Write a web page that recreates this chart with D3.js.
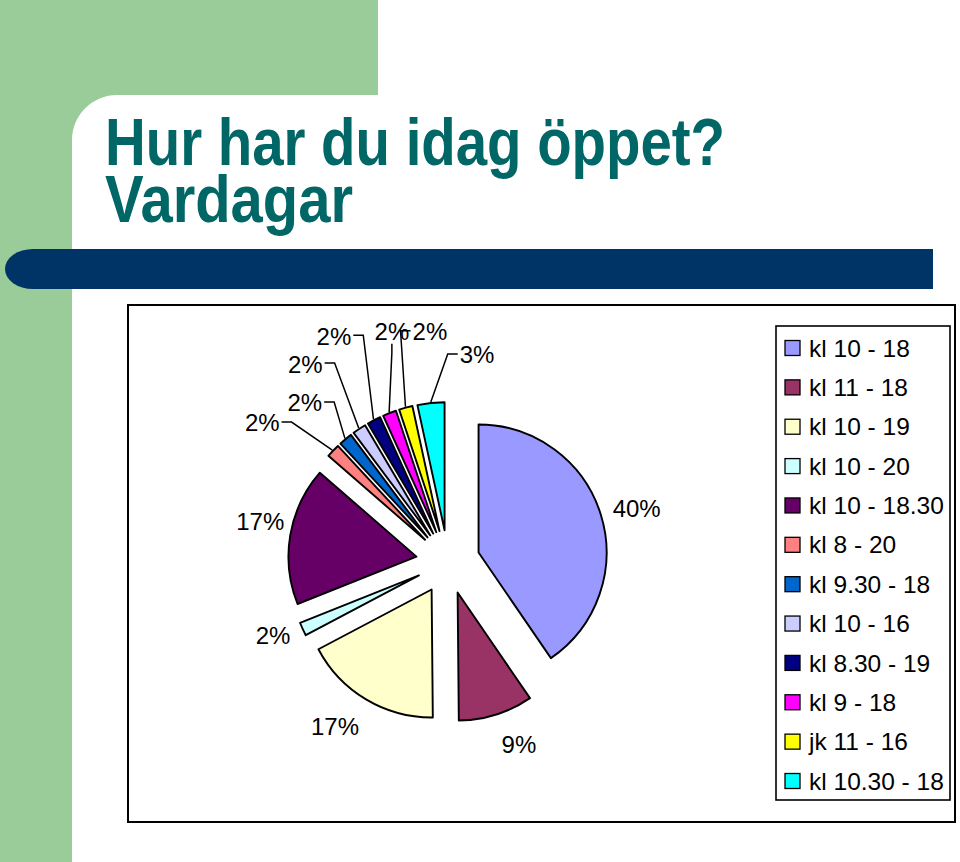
<!DOCTYPE html>
<html>
<head>
<meta charset="utf-8">
<script src="https://cdn.jsdelivr.net/npm/d3@7"></script>
<style>
  html, body { margin: 0; padding: 0; background: #ffffff; }
  svg { display: block; }
</style>
</head>
<body>
<svg id="chart" width="960" height="862"></svg>
<script>
// ---------------- data ----------------
const categories = ["kl 10 - 18", "kl 11 - 18", "kl 10 - 19", "kl 10 - 20", "kl 10 - 18.30",
  "kl 8 - 20", "kl 9.30 - 18", "kl 10 - 16", "kl 8.30 - 19", "kl 9 - 18", "jk 11 - 16", "kl 10.30 - 18"];
const values = [40.4, 9.4, 17.4, 1.7, 17.4, 1.7, 1.7, 1.7, 1.7, 1.7, 1.7, 3.4];
const colors = ["#9999FF", "#993366", "#FFFFCC", "#CCFFFF", "#660066", "#FF8080",
  "#0066CC", "#CCCCFF", "#000080", "#FF00FF", "#FFFF00", "#00FFFF"];
const titleLines = ["Hur har du idag öppet?", "Vardagar"];

// ---------------- layout ----------------
const labelAngles = [74.3, 158.8, 214.4, 247.1, 282, 306.8, 318, 324.2, 333.2, 346.3, 355.5, 8.0];
const labelRadii  = [196, 196, 200, 190, 192, 232, 214, 244, 253, 237, 231, 209];
const hasLeader   = [false, false, false, false, false, true, true, true, true, true, true, true];

const svg = d3.select("#chart");
const W = 960, H = 862;
const green = "#99CC99", navy = "#003366", teal = "#006666";
const arial = "'Liberation Sans', Arial, Helvetica, sans-serif";

// slide background
svg.append("rect").attr("x", 0).attr("y", 0).attr("width", 378).attr("height", 160).attr("fill", green);
svg.append("rect").attr("x", 0).attr("y", 0).attr("width", 72).attr("height", H).attr("fill", green);
svg.append("rect").attr("x", 72).attr("y", 95).attr("width", 1000).attr("height", 1000)
  .attr("rx", 45).attr("ry", 45).attr("fill", "#ffffff");

// title
const titleG = svg.append("g").attr("font-family", "'Liberation Sans Narrow', 'Arial Narrow', " + arial)
  .attr("font-weight", "bold").attr("font-size", 66).attr("fill", teal);
const titleWidths = [620, 248];
const titleBase = [165, 222];
titleLines.forEach((t, i) => {
  titleG.append("text").attr("x", 105).attr("y", titleBase[i])
    .attr("textLength", titleWidths[i]).attr("lengthAdjust", "spacingAndGlyphs").text(t);
});

// navy bar
svg.append("rect").attr("x", 5).attr("y", 249).attr("width", 70).attr("height", 40)
  .attr("rx", 28).attr("ry", 20).attr("fill", navy);
svg.append("rect").attr("x", 40).attr("y", 249).attr("width", 893).attr("height", 40).attr("fill", navy);

// chart frame
svg.append("rect").attr("x", 128).attr("y", 305).attr("width", 827).attr("height", 517)
  .attr("fill", "#ffffff").attr("stroke", "#000").attr("stroke-width", 2);

// ---------------- pie ----------------
const cx = 448, cy = 562, R = 128, explode = 32;
const pie = d3.pie().value(d => d).sort(null).startAngle(0).endAngle(2 * Math.PI);
const arcs = pie(values);
const arcGen = d3.arc().innerRadius(0).outerRadius(R);

const pieG = svg.append("g").attr("transform", `translate(${cx},${cy})`);
pieG.selectAll("path.slice").data(arcs).enter().append("path")
  .attr("class", "slice")
  .attr("transform", d => {
    const a = (d.startAngle + d.endAngle) / 2;
    return `translate(${explode * Math.sin(a)},${-explode * Math.cos(a)})`;
  })
  .attr("d", arcGen)
  .attr("fill", (d, i) => colors[i])
  .attr("stroke", "#000").attr("stroke-width", 1.9).attr("stroke-linejoin", "round");

// labels
const total = d3.sum(values);
const fs = 24;
const labG = pieG.append("g").attr("font-family", arial).attr("font-size", fs).attr("fill", "#000");
arcs.forEach((d, i) => {
  const la = labelAngles[i] * Math.PI / 180;
  const lx = labelRadii[i] * Math.sin(la), ly = -labelRadii[i] * Math.cos(la);
  const txt = labG.append("text").attr("x", lx).attr("y", ly + 0.35 * fs)
    .attr("text-anchor", "middle").text(Math.round(values[i] / total * 100) + "%");
  if (hasLeader[i]) {
    const w = txt.node().getComputedTextLength();
    const x0 = lx - w / 2, x1 = lx + w / 2;
    const a = (d.startAngle + d.endAngle) / 2;
    const T = [explode * Math.sin(a) + (R + 1) * Math.sin(a), -explode * Math.cos(a) - (R + 1) * Math.cos(a)];
    let pts;
    if (T[0] >= x0 && T[0] <= x1) {
      const sy = ly + 0.5 * fs;
      pts = [[lx, sy], [lx, sy + 9], T];
    } else if (T[0] > x1) {
      pts = [[x1 + 2, ly - 1], [x1 + 12, ly - 1], T];
    } else {
      pts = [[x0 - 2, ly - 1], [x0 - 12, ly - 1], T];
    }
    labG.append("path").attr("d", d3.line()(pts))
      .attr("fill", "none").attr("stroke", "#000").attr("stroke-width", 1.5);
  }
});

// ---------------- legend ----------------
const legX = 776, legY = 326, legW = 174, legH = 474;
svg.append("rect").attr("x", legX).attr("y", legY).attr("width", legW).attr("height", legH)
  .attr("fill", "#fff").attr("stroke", "#000").attr("stroke-width", 1.6);
const rowY = d3.scalePoint().domain(categories).range([348, 781]);
const legG = svg.append("g").attr("font-family", arial).attr("font-size", 24.5);
categories.forEach((c, i) => {
  const y = rowY(c);
  legG.append("rect").attr("x", 785).attr("y", y - 7.5).attr("width", 15).attr("height", 15)
    .attr("fill", colors[i]).attr("stroke", "#000").attr("stroke-width", 1.3);
  legG.append("text").attr("x", 809).attr("y", y + 8.6).attr("fill", "#000").text(c);
});
</script>
</body>
</html>
